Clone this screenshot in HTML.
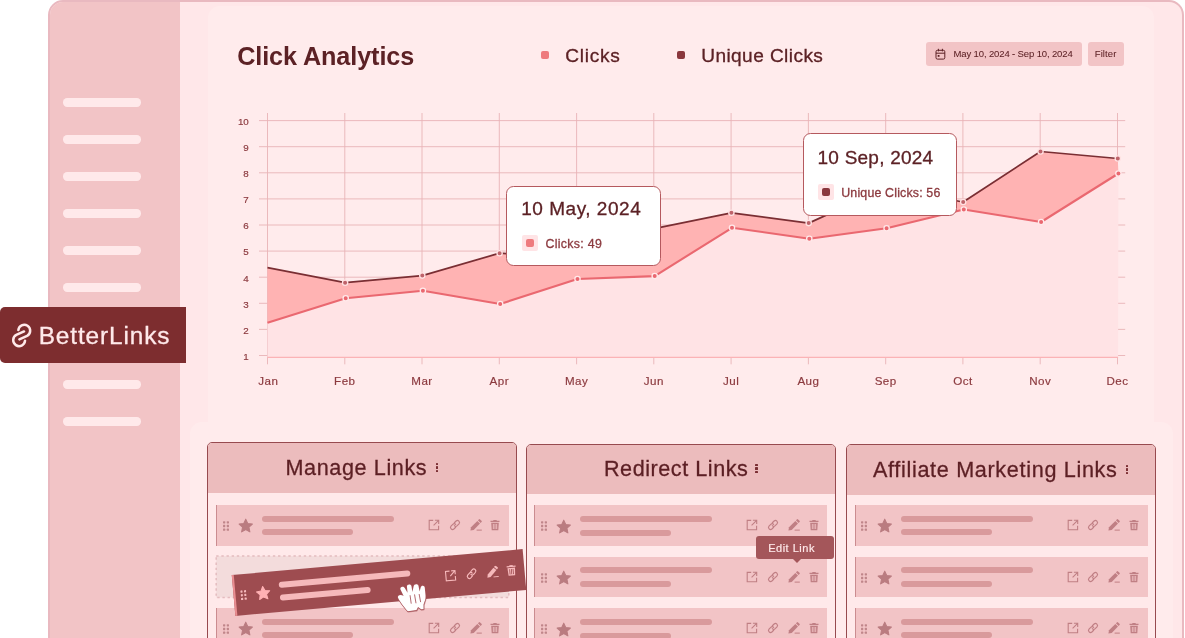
<!DOCTYPE html><html lang="en"><head><meta charset="utf-8"><title>BetterLinks – Click Analytics</title><style>

html,body{margin:0;padding:0;background:#fff}
body{width:1185px;height:638px;overflow:hidden;position:relative;font-family:"Liberation Sans", sans-serif}
#stage{position:absolute;left:0;top:0;width:1185px;height:638px;overflow:hidden}
.t{position:absolute;white-space:nowrap;line-height:1;margin:0;-webkit-text-stroke:0.3px currentColor}
#title{-webkit-text-stroke:0}
#date,#filter{-webkit-text-stroke:0.05px currentColor}
.sm{-webkit-text-stroke:0.18px currentColor}
.abs{position:absolute}
#frame{position:absolute;left:48px;top:-0.2px;width:1132.3px;height:700px;border:2px solid #e9b9c0;border-radius:15px;background:#ffe7e9;overflow:hidden;box-sizing:content-box}
#side{position:absolute;left:0;top:0;width:130.2px;height:700px;background:#f2c4c6}
.sl{position:absolute;left:63px;width:78px;height:8.4px;border-radius:4.2px;background:#ffe9ea}
.card{position:absolute;background:#ffebec;border-radius:12px}
#logo{position:absolute;left:0;top:306.8px;width:186.2px;height:56.5px;background:#7d2d2f;border-radius:5px 0 0 5px}
.btn{position:absolute;top:42.2px;height:23.5px;border-radius:3px;background:#f2c4c6}
.tip{position:absolute;background:#fff;border:1px solid #b5595e;border-radius:7.5px;box-sizing:border-box}
.panel{position:absolute;width:310px;box-sizing:border-box;border:1px solid #974a4f;border-radius:5px;background:#ffe9ea;overflow:hidden}
.phdr{background:#ecbcbd}
.row{position:absolute;width:293px;height:40.7px;background:#f2c4c6;border-left:1.6px solid #cb8c90;box-sizing:border-box}
.ln{position:absolute;height:6px;border-radius:3px}
.ic{display:block}

</style></head><body><div id="stage">
<div id="frame"><div id="side"></div></div>
<div class="card" style="left:208px;top:6px;width:945.5px;height:640px"></div>
<div class="card" style="left:190px;top:421.5px;width:982.5px;height:240px"></div>
<div class="sl" style="top:98.3px"></div>
<div class="sl" style="top:135.3px"></div>
<div class="sl" style="top:172.3px"></div>
<div class="sl" style="top:209.3px"></div>
<div class="sl" style="top:246.3px"></div>
<div class="sl" style="top:283.3px"></div>
<div class="sl" style="top:380.3px"></div>
<div class="sl" style="top:417.3px"></div>
<div id="logo"></div>
<svg style="position:absolute;left:8px;top:318px" width="28" height="34" viewBox="8 318 28 34"><g fill="none" stroke="#ffe9ea" stroke-width="2.7" stroke-linecap="round" transform="translate(21.7 335.4) scale(0.92) translate(-21.45 -335)"><path d="M17.8 329.2A6.45 6.45 0 1 1 27.3 335.5L18.9 339.3"/><path d="M25.1 340.8A6.45 6.45 0 1 1 15.6 334.5L24 330.7"/></g></svg>
<div class="t" id="logot" style="left:38.64px;top:324.25px;font-size:24.4px;font-weight:400;color:#ffe9ea;letter-spacing:0.884px">BetterLinks</div>
<div class="t" id="title" style="left:237.14px;top:44.27px;font-size:25.2px;font-weight:700;color:#5c2125;letter-spacing:-0.078px">Click Analytics</div>
<div class="abs" style="left:541.1px;top:51.2px;width:8.1px;height:8.1px;border-radius:2px;background:#ee7b7e"></div>
<div class="t" id="lg1" style="left:565.32px;top:45.73px;font-size:19.1px;font-weight:400;color:#5c2125;letter-spacing:0.715px">Clicks</div>
<div class="abs" style="left:677px;top:51.2px;width:8.1px;height:8.1px;border-radius:2px;background:#8a373d"></div>
<div class="t" id="lg2" style="left:701.18px;top:45.73px;font-size:19.1px;font-weight:400;color:#5c2125;letter-spacing:0.418px">Unique Clicks</div>
<div class="btn" style="left:926px;width:156.3px"></div>
<div class="btn" style="left:1087.8px;width:36.6px"></div>
<svg style="position:absolute;left:935px;top:48.4px" width="11" height="12" viewBox="0 0 11 12"><g fill="none" stroke="#5c2125" stroke-width="1"><rect x="1" y="2.3" width="8.8" height="8.8" rx="1.4"/><path d="M1 5.2H9.8M3.4 0.8V3.4M7.4 0.8V3.4"/></g><rect x="2.7" y="7" width="1.8" height="1.8" fill="#5c2125"/></svg>
<div class="t" id="date" style="left:953.54px;top:49.26px;font-size:9.5px;font-weight:400;color:#5c2125;letter-spacing:-0.129px">May 10, 2024 - Sep 10, 2024</div>
<div class="t" id="filter" style="left:1094.73px;top:49.26px;font-size:9.5px;font-weight:400;color:#5c2125;letter-spacing:0.108px">Filter</div>
<svg style="position:absolute;left:0;top:0" width="1185" height="638" viewBox="0 0 1185 638"><path d="M259 355.5H1125.2M259 329.4H1125.2M259 303.3H1125.2M259 277.2H1125.2M259 251.1H1125.2M259 225.0H1125.2M259 198.9H1125.2M259 172.8H1125.2M259 146.7H1125.2M259 120.6H1125.2M267.5 113V364.3M344.8 113V364.3M422.0 113V364.3M499.3 113V364.3M576.6 113V364.3M653.8 113V364.3M731.1 113V364.3M808.4 113V364.3M885.7 113V364.3M962.9 113V364.3M1040.2 113V364.3M1117.5 113V364.3" stroke="#e9b3b7" stroke-width="0.9" fill="none"/><polygon points="267.5,322.8 345.7,298.2 422.9,290.8 500.2,304 577.5,279 654.7,276.1 732.0,227.8 809.3,238.7 886.6,228.2 963.8,209.5 1041.1,222.0 1118.4,173.5 1118.1,357.3 267.5,357.3" fill="#ffe3e5"/><path d="M267.5 357.4H1118.1" stroke="#fbb3b6" stroke-width="1.3"/><polygon points="267.5,267.7 345.1,282.7 422.3,275.6 499.6,253.2 576.9,259 654.1,228.6 731.4,212.8 808.7,223.1 886.0,188 963.2,202 1040.5,151.5 1117.8,158.5 1118.4,173.5 1041.1,222.0 963.8,209.5 886.6,228.2 809.3,238.7 732.0,227.8 654.7,276.1 577.5,279 500.2,304 422.9,290.8 345.7,298.2 267.5,322.8" fill="#ffb3b3"/><polyline points="267.5,322.8 345.7,298.2 422.9,290.8 500.2,304 577.5,279 654.7,276.1 732.0,227.8 809.3,238.7 886.6,228.2 963.8,209.5 1041.1,222.0 1118.4,173.5" fill="none" stroke="#ea6870" stroke-width="2.1" stroke-linejoin="round"/><polyline points="267.5,267.7 345.1,282.7 422.3,275.6 499.6,253.2 576.9,259 654.1,228.6 731.4,212.8 808.7,223.1 886.0,188 963.2,202 1040.5,151.5 1117.8,158.5" fill="none" stroke="#7a2e33" stroke-width="1.75" stroke-linejoin="round"/><circle cx="345.7" cy="298.2" r="2.65" fill="#ea6870" stroke="#ffeaeb" stroke-width="1.3"/><circle cx="345.1" cy="282.7" r="2.65" fill="#bf636a" stroke="#ffe3e4" stroke-width="1.3"/><circle cx="422.9" cy="290.8" r="2.65" fill="#ea6870" stroke="#ffeaeb" stroke-width="1.3"/><circle cx="422.3" cy="275.6" r="2.65" fill="#bf636a" stroke="#ffe3e4" stroke-width="1.3"/><circle cx="500.2" cy="304" r="2.65" fill="#ea6870" stroke="#ffeaeb" stroke-width="1.3"/><circle cx="499.6" cy="253.2" r="2.65" fill="#bf636a" stroke="#ffe3e4" stroke-width="1.3"/><circle cx="577.5" cy="279" r="2.65" fill="#ea6870" stroke="#ffeaeb" stroke-width="1.3"/><circle cx="576.9" cy="259" r="2.65" fill="#bf636a" stroke="#ffe3e4" stroke-width="1.3"/><circle cx="654.7" cy="276.1" r="2.65" fill="#ea6870" stroke="#ffeaeb" stroke-width="1.3"/><circle cx="654.1" cy="228.6" r="2.65" fill="#bf636a" stroke="#ffe3e4" stroke-width="1.3"/><circle cx="732.0" cy="227.8" r="2.65" fill="#ea6870" stroke="#ffeaeb" stroke-width="1.3"/><circle cx="731.4" cy="212.8" r="2.65" fill="#bf636a" stroke="#ffe3e4" stroke-width="1.3"/><circle cx="809.3" cy="238.7" r="2.65" fill="#ea6870" stroke="#ffeaeb" stroke-width="1.3"/><circle cx="808.7" cy="223.1" r="2.65" fill="#bf636a" stroke="#ffe3e4" stroke-width="1.3"/><circle cx="886.6" cy="228.2" r="2.65" fill="#ea6870" stroke="#ffeaeb" stroke-width="1.3"/><circle cx="886.0" cy="188" r="2.65" fill="#bf636a" stroke="#ffe3e4" stroke-width="1.3"/><circle cx="963.8" cy="209.5" r="2.65" fill="#ea6870" stroke="#ffeaeb" stroke-width="1.3"/><circle cx="963.2" cy="202" r="2.65" fill="#bf636a" stroke="#ffe3e4" stroke-width="1.3"/><circle cx="1041.1" cy="222.0" r="2.65" fill="#ea6870" stroke="#ffeaeb" stroke-width="1.3"/><circle cx="1040.5" cy="151.5" r="2.65" fill="#bf636a" stroke="#ffe3e4" stroke-width="1.3"/><circle cx="1118.4" cy="173.5" r="2.65" fill="#ea6870" stroke="#ffeaeb" stroke-width="1.3"/><circle cx="1117.8" cy="158.5" r="2.65" fill="#bf636a" stroke="#ffe3e4" stroke-width="1.3"/></svg><div class="t sm" id="y1" style="right:936.2px;top:351.50px;font-size:9.8px;font-weight:400;color:#8c3a3f;letter-spacing:0px">1</div><div class="t sm" id="y2" style="right:936.2px;top:326.40px;font-size:9.8px;font-weight:400;color:#8c3a3f;letter-spacing:0px">2</div><div class="t sm" id="y3" style="right:936.2px;top:300.30px;font-size:9.8px;font-weight:400;color:#8c3a3f;letter-spacing:0px">3</div><div class="t sm" id="y4" style="right:936.2px;top:274.20px;font-size:9.8px;font-weight:400;color:#8c3a3f;letter-spacing:0px">4</div><div class="t sm" id="y5" style="right:936.2px;top:247.10px;font-size:9.8px;font-weight:400;color:#8c3a3f;letter-spacing:0px">5</div><div class="t sm" id="y6" style="right:936.2px;top:221.00px;font-size:9.8px;font-weight:400;color:#8c3a3f;letter-spacing:0px">6</div><div class="t sm" id="y7" style="right:936.2px;top:194.90px;font-size:9.8px;font-weight:400;color:#8c3a3f;letter-spacing:0px">7</div><div class="t sm" id="y8" style="right:936.2px;top:168.80px;font-size:9.8px;font-weight:400;color:#8c3a3f;letter-spacing:0px">8</div><div class="t sm" id="y9" style="right:936.2px;top:142.70px;font-size:9.8px;font-weight:400;color:#8c3a3f;letter-spacing:0px">9</div><div class="t sm" id="y10" style="right:936.2px;top:116.60px;font-size:9.8px;font-weight:400;color:#8c3a3f;letter-spacing:0px">10</div><div class="t sm" id="m0" style="left:168.3px;width:200px;text-align:center;top:374.98px;font-size:11.6px;font-weight:400;color:#8c3a3f;letter-spacing:0.45px">Jan</div><div class="t sm" id="m1" style="left:244.76999999999998px;width:200px;text-align:center;top:374.98px;font-size:11.6px;font-weight:400;color:#8c3a3f;letter-spacing:0.45px">Feb</div><div class="t sm" id="m2" style="left:322.03999999999996px;width:200px;text-align:center;top:374.98px;font-size:11.6px;font-weight:400;color:#8c3a3f;letter-spacing:0.45px">Mar</div><div class="t sm" id="m3" style="left:399.31px;width:200px;text-align:center;top:374.98px;font-size:11.6px;font-weight:400;color:#8c3a3f;letter-spacing:0.45px">Apr</div><div class="t sm" id="m4" style="left:476.5799999999999px;width:200px;text-align:center;top:374.98px;font-size:11.6px;font-weight:400;color:#8c3a3f;letter-spacing:0.45px">May</div><div class="t sm" id="m5" style="left:553.8499999999999px;width:200px;text-align:center;top:374.98px;font-size:11.6px;font-weight:400;color:#8c3a3f;letter-spacing:0.45px">Jun</div><div class="t sm" id="m6" style="left:631.12px;width:200px;text-align:center;top:374.98px;font-size:11.6px;font-weight:400;color:#8c3a3f;letter-spacing:0.45px">Jul</div><div class="t sm" id="m7" style="left:708.39px;width:200px;text-align:center;top:374.98px;font-size:11.6px;font-weight:400;color:#8c3a3f;letter-spacing:0.45px">Aug</div><div class="t sm" id="m8" style="left:785.66px;width:200px;text-align:center;top:374.98px;font-size:11.6px;font-weight:400;color:#8c3a3f;letter-spacing:0.45px">Sep</div><div class="t sm" id="m9" style="left:862.93px;width:200px;text-align:center;top:374.98px;font-size:11.6px;font-weight:400;color:#8c3a3f;letter-spacing:0.45px">Oct</div><div class="t sm" id="m10" style="left:940.1999999999998px;width:200px;text-align:center;top:374.98px;font-size:11.6px;font-weight:400;color:#8c3a3f;letter-spacing:0.45px">Nov</div><div class="t sm" id="m11" style="left:1017.4699999999998px;width:200px;text-align:center;top:374.98px;font-size:11.6px;font-weight:400;color:#8c3a3f;letter-spacing:0.45px">Dec</div>
<div class="tip" style="left:506.3px;top:186px;width:155px;height:79.8px"></div><div class="t" id="tp1t" style="left:521.19px;top:199.32px;font-size:19px;font-weight:400;color:#5c2125;letter-spacing:0.528px">10 May, 2024</div><div style="position:absolute;left:521.8px;top:235px;width:16px;height:16px;border-radius:2px;background:#ffe4e6"></div><div style="position:absolute;left:525.6999999999999px;top:238.9px;width:8.2px;height:8.2px;border-radius:2px;background:#ee7b7e"></div><div class="t" id="tp1l" style="left:545.40px;top:238.40px;font-size:12.4px;font-weight:400;color:#8c3a3f;letter-spacing:0.312px">Clicks: 49</div>
<div class="tip" style="left:803.3px;top:132.6px;width:153.4px;height:83px"></div><div class="t" id="tp2t" style="left:817.56px;top:148.32px;font-size:19px;font-weight:400;color:#5c2125;letter-spacing:0.234px">10 Sep, 2024</div><div style="position:absolute;left:817.9px;top:184.0px;width:16px;height:16px;border-radius:2px;background:#ffe4e6"></div><div style="position:absolute;left:821.8px;top:187.9px;width:8.2px;height:8.2px;border-radius:2px;background:#8a373d"></div><div class="t" id="tp2l" style="left:841.26px;top:187.40px;font-size:12.4px;font-weight:400;color:#8c3a3f;letter-spacing:0.164px">Unique Clicks: 56</div>
<div class="panel" style="left:207px;top:442px;height:218px"><div class="phdr" style="height:49.7px"></div></div><div class="t" id="p1" style="left:285.43px;top:457.42px;font-size:21.6px;font-weight:400;color:#5c1f24;letter-spacing:0.617px">Manage Links</div><div style="position:absolute;left:435.8px;top:462.7px;width:2.4px;height:2.4px;border-radius:0.6px;background:#7a2e33"></div><div style="position:absolute;left:435.8px;top:466.3px;width:2.4px;height:2.4px;border-radius:0.6px;background:#7a2e33"></div><div style="position:absolute;left:435.8px;top:469.9px;width:2.4px;height:2.4px;border-radius:0.6px;background:#7a2e33"></div><div class="row" style="left:216.1px;top:505.0px;width:292.8px"></div><svg style="position:absolute;left:222.9px;top:521.2px" width="6" height="10" viewBox="0 0 5.8 9.4"><rect x="0.0" y="0.0" width="2.2" height="2.2" rx="0.6" fill="#c0868a"/><rect x="0.0" y="3.6" width="2.2" height="2.2" rx="0.6" fill="#c0868a"/><rect x="0.0" y="7.2" width="2.2" height="2.2" rx="0.6" fill="#c0868a"/><rect x="3.6" y="0.0" width="2.2" height="2.2" rx="0.6" fill="#c0868a"/><rect x="3.6" y="3.6" width="2.2" height="2.2" rx="0.6" fill="#c0868a"/><rect x="3.6" y="7.2" width="2.2" height="2.2" rx="0.6" fill="#c0868a"/></svg><svg style="position:absolute;left:238.2px;top:518.4px" viewBox="0 0 24 24" width="15.5" height="15.5"><path fill="#ba7c80" stroke="#ba7c80" stroke-width="1.6" stroke-linejoin="round" d="M12 1.8l3.1 6.6 7.2 0.9-5.3 5 1.4 7.2L12 18l-6.4 3.5 1.4-7.2-5.3-5 7.2-0.9z"/></svg><div class="ln" style="left:262.2px;top:515.7px;width:132px;background:#d99a9c"></div><div class="ln" style="left:262.2px;top:529.3px;width:91px;background:#d99a9c"></div><div style="position:absolute;left:428.0px;top:519.2px;width:12px;height:12px"><svg class="ic" viewBox="0 0 12 12" width="12" height="12"><g fill="none" stroke="#c07f84" stroke-width="1.1"><path d="M5.2 1.4H1.2V10.8H10.6V6.8"/><path d="M5.6 6.4L10.4 1.6M6.9 1.3H10.7V5.1"/></g></svg></div><div style="position:absolute;left:448.7px;top:519.2px;width:12px;height:12px"><svg class="ic" viewBox="0 0 12 12" width="12" height="12"><g fill="none" stroke="#c07f84" stroke-width="1.25" stroke-linecap="round"><g transform="translate(6 6) scale(0.93) translate(-6 -6)"><path d="M5.3 3.6L7.2 1.7a2.2 2.2 0 0 1 3.1 3.1L8.4 6.7a2.2 2.2 0 0 1-3.1 0"/><path d="M6.7 8.4L4.8 10.3a2.2 2.2 0 0 1-3.1-3.1L3.6 5.3a2.2 2.2 0 0 1 3.1 0"/></g></g></svg></div><div style="position:absolute;left:469.9px;top:519.2px;width:12px;height:12px"><svg class="ic" viewBox="0 0 12 12" width="12" height="12"><g fill="#c07f84"><path d="M0.4 11.4L1 8.2L7.3 1.9L10 4.6L3.7 10.9Z"/><path d="M7.9 1.3L8.8 0.4a0.9 0.9 0 0 1 1.3 0L11.5 1.8a0.9 0.9 0 0 1 0 1.3L10.6 4Z"/><rect x="6.6" y="10.6" width="5.2" height="1"/></g></svg></div><div style="position:absolute;left:489.4px;top:519.2px;width:12px;height:12px"><svg class="ic" viewBox="0 0 12 12" width="12" height="12"><g fill="#c07f84"><path d="M1.5 1.7H4.3V0.9H7.7V1.7H10.5V2.9H1.5Z"/><path fill-rule="evenodd" d="M2.2 3.7H9.8L9.3 11.3H2.7Z M3.9 4.9V10.1H4.7V4.9Z M5.6 4.9V10.1H6.4V4.9Z M7.3 4.9V10.1H8.1V4.9Z"/></g></svg></div><div class="row" style="left:216.1px;top:608.0px;width:292.8px"></div><svg style="position:absolute;left:222.9px;top:624.2px" width="6" height="10" viewBox="0 0 5.8 9.4"><rect x="0.0" y="0.0" width="2.2" height="2.2" rx="0.6" fill="#c0868a"/><rect x="0.0" y="3.6" width="2.2" height="2.2" rx="0.6" fill="#c0868a"/><rect x="0.0" y="7.2" width="2.2" height="2.2" rx="0.6" fill="#c0868a"/><rect x="3.6" y="0.0" width="2.2" height="2.2" rx="0.6" fill="#c0868a"/><rect x="3.6" y="3.6" width="2.2" height="2.2" rx="0.6" fill="#c0868a"/><rect x="3.6" y="7.2" width="2.2" height="2.2" rx="0.6" fill="#c0868a"/></svg><svg style="position:absolute;left:238.2px;top:621.4px" viewBox="0 0 24 24" width="15.5" height="15.5"><path fill="#ba7c80" stroke="#ba7c80" stroke-width="1.6" stroke-linejoin="round" d="M12 1.8l3.1 6.6 7.2 0.9-5.3 5 1.4 7.2L12 18l-6.4 3.5 1.4-7.2-5.3-5 7.2-0.9z"/></svg><div class="ln" style="left:262.2px;top:618.7px;width:132px;background:#d99a9c"></div><div class="ln" style="left:262.2px;top:632.3px;width:91px;background:#d99a9c"></div><div style="position:absolute;left:428.0px;top:622.2px;width:12px;height:12px"><svg class="ic" viewBox="0 0 12 12" width="12" height="12"><g fill="none" stroke="#c07f84" stroke-width="1.1"><path d="M5.2 1.4H1.2V10.8H10.6V6.8"/><path d="M5.6 6.4L10.4 1.6M6.9 1.3H10.7V5.1"/></g></svg></div><div style="position:absolute;left:448.7px;top:622.2px;width:12px;height:12px"><svg class="ic" viewBox="0 0 12 12" width="12" height="12"><g fill="none" stroke="#c07f84" stroke-width="1.25" stroke-linecap="round"><g transform="translate(6 6) scale(0.93) translate(-6 -6)"><path d="M5.3 3.6L7.2 1.7a2.2 2.2 0 0 1 3.1 3.1L8.4 6.7a2.2 2.2 0 0 1-3.1 0"/><path d="M6.7 8.4L4.8 10.3a2.2 2.2 0 0 1-3.1-3.1L3.6 5.3a2.2 2.2 0 0 1 3.1 0"/></g></g></svg></div><div style="position:absolute;left:469.9px;top:622.2px;width:12px;height:12px"><svg class="ic" viewBox="0 0 12 12" width="12" height="12"><g fill="#c07f84"><path d="M0.4 11.4L1 8.2L7.3 1.9L10 4.6L3.7 10.9Z"/><path d="M7.9 1.3L8.8 0.4a0.9 0.9 0 0 1 1.3 0L11.5 1.8a0.9 0.9 0 0 1 0 1.3L10.6 4Z"/><rect x="6.6" y="10.6" width="5.2" height="1"/></g></svg></div><div style="position:absolute;left:489.4px;top:622.2px;width:12px;height:12px"><svg class="ic" viewBox="0 0 12 12" width="12" height="12"><g fill="#c07f84"><path d="M1.5 1.7H4.3V0.9H7.7V1.7H10.5V2.9H1.5Z"/><path fill-rule="evenodd" d="M2.2 3.7H9.8L9.3 11.3H2.7Z M3.9 4.9V10.1H4.7V4.9Z M5.6 4.9V10.1H6.4V4.9Z M7.3 4.9V10.1H8.1V4.9Z"/></g></svg></div>
<div class="panel" style="left:526.4px;top:444px;height:216px"><div class="phdr" style="height:48.8px"></div></div><div class="t" id="p2" style="left:603.95px;top:457.52px;font-size:21.6px;font-weight:400;color:#5c1f24;letter-spacing:0.545px">Redirect Links</div><div style="position:absolute;left:755.4px;top:463.8px;width:2.4px;height:2.4px;border-radius:0.6px;background:#7a2e33"></div><div style="position:absolute;left:755.4px;top:467.4px;width:2.4px;height:2.4px;border-radius:0.6px;background:#7a2e33"></div><div style="position:absolute;left:755.4px;top:471.0px;width:2.4px;height:2.4px;border-radius:0.6px;background:#7a2e33"></div><div class="row" style="left:534.3px;top:505.2px;width:292.8px"></div><svg style="position:absolute;left:541.0999999999999px;top:521.4px" width="6" height="10" viewBox="0 0 5.8 9.4"><rect x="0.0" y="0.0" width="2.2" height="2.2" rx="0.6" fill="#c0868a"/><rect x="0.0" y="3.6" width="2.2" height="2.2" rx="0.6" fill="#c0868a"/><rect x="0.0" y="7.2" width="2.2" height="2.2" rx="0.6" fill="#c0868a"/><rect x="3.6" y="0.0" width="2.2" height="2.2" rx="0.6" fill="#c0868a"/><rect x="3.6" y="3.6" width="2.2" height="2.2" rx="0.6" fill="#c0868a"/><rect x="3.6" y="7.2" width="2.2" height="2.2" rx="0.6" fill="#c0868a"/></svg><svg style="position:absolute;left:556.4px;top:518.6px" viewBox="0 0 24 24" width="15.5" height="15.5"><path fill="#ba7c80" stroke="#ba7c80" stroke-width="1.6" stroke-linejoin="round" d="M12 1.8l3.1 6.6 7.2 0.9-5.3 5 1.4 7.2L12 18l-6.4 3.5 1.4-7.2-5.3-5 7.2-0.9z"/></svg><div class="ln" style="left:580.4px;top:515.9px;width:132px;background:#d99a9c"></div><div class="ln" style="left:580.4px;top:529.5px;width:91px;background:#d99a9c"></div><div style="position:absolute;left:746.1999999999999px;top:519.4px;width:12px;height:12px"><svg class="ic" viewBox="0 0 12 12" width="12" height="12"><g fill="none" stroke="#c07f84" stroke-width="1.1"><path d="M5.2 1.4H1.2V10.8H10.6V6.8"/><path d="M5.6 6.4L10.4 1.6M6.9 1.3H10.7V5.1"/></g></svg></div><div style="position:absolute;left:766.8999999999999px;top:519.4px;width:12px;height:12px"><svg class="ic" viewBox="0 0 12 12" width="12" height="12"><g fill="none" stroke="#c07f84" stroke-width="1.25" stroke-linecap="round"><g transform="translate(6 6) scale(0.93) translate(-6 -6)"><path d="M5.3 3.6L7.2 1.7a2.2 2.2 0 0 1 3.1 3.1L8.4 6.7a2.2 2.2 0 0 1-3.1 0"/><path d="M6.7 8.4L4.8 10.3a2.2 2.2 0 0 1-3.1-3.1L3.6 5.3a2.2 2.2 0 0 1 3.1 0"/></g></g></svg></div><div style="position:absolute;left:788.0999999999999px;top:519.4px;width:12px;height:12px"><svg class="ic" viewBox="0 0 12 12" width="12" height="12"><g fill="#c07f84"><path d="M0.4 11.4L1 8.2L7.3 1.9L10 4.6L3.7 10.9Z"/><path d="M7.9 1.3L8.8 0.4a0.9 0.9 0 0 1 1.3 0L11.5 1.8a0.9 0.9 0 0 1 0 1.3L10.6 4Z"/><rect x="6.6" y="10.6" width="5.2" height="1"/></g></svg></div><div style="position:absolute;left:807.5999999999999px;top:519.4px;width:12px;height:12px"><svg class="ic" viewBox="0 0 12 12" width="12" height="12"><g fill="#c07f84"><path d="M1.5 1.7H4.3V0.9H7.7V1.7H10.5V2.9H1.5Z"/><path fill-rule="evenodd" d="M2.2 3.7H9.8L9.3 11.3H2.7Z M3.9 4.9V10.1H4.7V4.9Z M5.6 4.9V10.1H6.4V4.9Z M7.3 4.9V10.1H8.1V4.9Z"/></g></svg></div><div class="row" style="left:534.3px;top:556.7px;width:292.8px"></div><svg style="position:absolute;left:541.0999999999999px;top:572.9000000000001px" width="6" height="10" viewBox="0 0 5.8 9.4"><rect x="0.0" y="0.0" width="2.2" height="2.2" rx="0.6" fill="#c0868a"/><rect x="0.0" y="3.6" width="2.2" height="2.2" rx="0.6" fill="#c0868a"/><rect x="0.0" y="7.2" width="2.2" height="2.2" rx="0.6" fill="#c0868a"/><rect x="3.6" y="0.0" width="2.2" height="2.2" rx="0.6" fill="#c0868a"/><rect x="3.6" y="3.6" width="2.2" height="2.2" rx="0.6" fill="#c0868a"/><rect x="3.6" y="7.2" width="2.2" height="2.2" rx="0.6" fill="#c0868a"/></svg><svg style="position:absolute;left:556.4px;top:570.1px" viewBox="0 0 24 24" width="15.5" height="15.5"><path fill="#ba7c80" stroke="#ba7c80" stroke-width="1.6" stroke-linejoin="round" d="M12 1.8l3.1 6.6 7.2 0.9-5.3 5 1.4 7.2L12 18l-6.4 3.5 1.4-7.2-5.3-5 7.2-0.9z"/></svg><div class="ln" style="left:580.4px;top:567.4000000000001px;width:132px;background:#d99a9c"></div><div class="ln" style="left:580.4px;top:581.0px;width:91px;background:#d99a9c"></div><div style="position:absolute;left:746.1999999999999px;top:570.9000000000001px;width:12px;height:12px"><svg class="ic" viewBox="0 0 12 12" width="12" height="12"><g fill="none" stroke="#c07f84" stroke-width="1.1"><path d="M5.2 1.4H1.2V10.8H10.6V6.8"/><path d="M5.6 6.4L10.4 1.6M6.9 1.3H10.7V5.1"/></g></svg></div><div style="position:absolute;left:766.8999999999999px;top:570.9000000000001px;width:12px;height:12px"><svg class="ic" viewBox="0 0 12 12" width="12" height="12"><g fill="none" stroke="#c07f84" stroke-width="1.25" stroke-linecap="round"><g transform="translate(6 6) scale(0.93) translate(-6 -6)"><path d="M5.3 3.6L7.2 1.7a2.2 2.2 0 0 1 3.1 3.1L8.4 6.7a2.2 2.2 0 0 1-3.1 0"/><path d="M6.7 8.4L4.8 10.3a2.2 2.2 0 0 1-3.1-3.1L3.6 5.3a2.2 2.2 0 0 1 3.1 0"/></g></g></svg></div><div style="position:absolute;left:788.0999999999999px;top:570.9000000000001px;width:12px;height:12px"><svg class="ic" viewBox="0 0 12 12" width="12" height="12"><g fill="#c07f84"><path d="M0.4 11.4L1 8.2L7.3 1.9L10 4.6L3.7 10.9Z"/><path d="M7.9 1.3L8.8 0.4a0.9 0.9 0 0 1 1.3 0L11.5 1.8a0.9 0.9 0 0 1 0 1.3L10.6 4Z"/><rect x="6.6" y="10.6" width="5.2" height="1"/></g></svg></div><div style="position:absolute;left:807.5999999999999px;top:570.9000000000001px;width:12px;height:12px"><svg class="ic" viewBox="0 0 12 12" width="12" height="12"><g fill="#c07f84"><path d="M1.5 1.7H4.3V0.9H7.7V1.7H10.5V2.9H1.5Z"/><path fill-rule="evenodd" d="M2.2 3.7H9.8L9.3 11.3H2.7Z M3.9 4.9V10.1H4.7V4.9Z M5.6 4.9V10.1H6.4V4.9Z M7.3 4.9V10.1H8.1V4.9Z"/></g></svg></div><div class="row" style="left:534.3px;top:608.2px;width:292.8px"></div><svg style="position:absolute;left:541.0999999999999px;top:624.4000000000001px" width="6" height="10" viewBox="0 0 5.8 9.4"><rect x="0.0" y="0.0" width="2.2" height="2.2" rx="0.6" fill="#c0868a"/><rect x="0.0" y="3.6" width="2.2" height="2.2" rx="0.6" fill="#c0868a"/><rect x="0.0" y="7.2" width="2.2" height="2.2" rx="0.6" fill="#c0868a"/><rect x="3.6" y="0.0" width="2.2" height="2.2" rx="0.6" fill="#c0868a"/><rect x="3.6" y="3.6" width="2.2" height="2.2" rx="0.6" fill="#c0868a"/><rect x="3.6" y="7.2" width="2.2" height="2.2" rx="0.6" fill="#c0868a"/></svg><svg style="position:absolute;left:556.4px;top:621.6px" viewBox="0 0 24 24" width="15.5" height="15.5"><path fill="#ba7c80" stroke="#ba7c80" stroke-width="1.6" stroke-linejoin="round" d="M12 1.8l3.1 6.6 7.2 0.9-5.3 5 1.4 7.2L12 18l-6.4 3.5 1.4-7.2-5.3-5 7.2-0.9z"/></svg><div class="ln" style="left:580.4px;top:618.9000000000001px;width:132px;background:#d99a9c"></div><div class="ln" style="left:580.4px;top:632.5px;width:91px;background:#d99a9c"></div><div style="position:absolute;left:746.1999999999999px;top:622.4000000000001px;width:12px;height:12px"><svg class="ic" viewBox="0 0 12 12" width="12" height="12"><g fill="none" stroke="#c07f84" stroke-width="1.1"><path d="M5.2 1.4H1.2V10.8H10.6V6.8"/><path d="M5.6 6.4L10.4 1.6M6.9 1.3H10.7V5.1"/></g></svg></div><div style="position:absolute;left:766.8999999999999px;top:622.4000000000001px;width:12px;height:12px"><svg class="ic" viewBox="0 0 12 12" width="12" height="12"><g fill="none" stroke="#c07f84" stroke-width="1.25" stroke-linecap="round"><g transform="translate(6 6) scale(0.93) translate(-6 -6)"><path d="M5.3 3.6L7.2 1.7a2.2 2.2 0 0 1 3.1 3.1L8.4 6.7a2.2 2.2 0 0 1-3.1 0"/><path d="M6.7 8.4L4.8 10.3a2.2 2.2 0 0 1-3.1-3.1L3.6 5.3a2.2 2.2 0 0 1 3.1 0"/></g></g></svg></div><div style="position:absolute;left:788.0999999999999px;top:622.4000000000001px;width:12px;height:12px"><svg class="ic" viewBox="0 0 12 12" width="12" height="12"><g fill="#c07f84"><path d="M0.4 11.4L1 8.2L7.3 1.9L10 4.6L3.7 10.9Z"/><path d="M7.9 1.3L8.8 0.4a0.9 0.9 0 0 1 1.3 0L11.5 1.8a0.9 0.9 0 0 1 0 1.3L10.6 4Z"/><rect x="6.6" y="10.6" width="5.2" height="1"/></g></svg></div><div style="position:absolute;left:807.5999999999999px;top:622.4000000000001px;width:12px;height:12px"><svg class="ic" viewBox="0 0 12 12" width="12" height="12"><g fill="#c07f84"><path d="M1.5 1.7H4.3V0.9H7.7V1.7H10.5V2.9H1.5Z"/><path fill-rule="evenodd" d="M2.2 3.7H9.8L9.3 11.3H2.7Z M3.9 4.9V10.1H4.7V4.9Z M5.6 4.9V10.1H6.4V4.9Z M7.3 4.9V10.1H8.1V4.9Z"/></g></svg></div>
<div class="panel" style="left:846.0px;top:444px;height:216px"><div class="phdr" style="height:49.8px"></div></div><div class="t" id="p3" style="left:872.93px;top:458.52px;font-size:21.6px;font-weight:400;color:#5c1f24;letter-spacing:0.68px">Affiliate Marketing Links</div><div style="position:absolute;left:1125.7px;top:464.8px;width:2.4px;height:2.4px;border-radius:0.6px;background:#7a2e33"></div><div style="position:absolute;left:1125.7px;top:468.4px;width:2.4px;height:2.4px;border-radius:0.6px;background:#7a2e33"></div><div style="position:absolute;left:1125.7px;top:472.0px;width:2.4px;height:2.4px;border-radius:0.6px;background:#7a2e33"></div><div class="row" style="left:854.8px;top:505.0px;width:292.8px"></div><svg style="position:absolute;left:861.4px;top:521.2px" width="6" height="10" viewBox="0 0 5.8 9.4"><rect x="0.0" y="0.0" width="2.2" height="2.2" rx="0.6" fill="#c0868a"/><rect x="0.0" y="3.6" width="2.2" height="2.2" rx="0.6" fill="#c0868a"/><rect x="0.0" y="7.2" width="2.2" height="2.2" rx="0.6" fill="#c0868a"/><rect x="3.6" y="0.0" width="2.2" height="2.2" rx="0.6" fill="#c0868a"/><rect x="3.6" y="3.6" width="2.2" height="2.2" rx="0.6" fill="#c0868a"/><rect x="3.6" y="7.2" width="2.2" height="2.2" rx="0.6" fill="#c0868a"/></svg><svg style="position:absolute;left:876.7px;top:518.4px" viewBox="0 0 24 24" width="15.5" height="15.5"><path fill="#ba7c80" stroke="#ba7c80" stroke-width="1.6" stroke-linejoin="round" d="M12 1.8l3.1 6.6 7.2 0.9-5.3 5 1.4 7.2L12 18l-6.4 3.5 1.4-7.2-5.3-5 7.2-0.9z"/></svg><div class="ln" style="left:900.7px;top:515.7px;width:132px;background:#d99a9c"></div><div class="ln" style="left:900.7px;top:529.3px;width:91px;background:#d99a9c"></div><div style="position:absolute;left:1066.5px;top:519.2px;width:12px;height:12px"><svg class="ic" viewBox="0 0 12 12" width="12" height="12"><g fill="none" stroke="#c07f84" stroke-width="1.1"><path d="M5.2 1.4H1.2V10.8H10.6V6.8"/><path d="M5.6 6.4L10.4 1.6M6.9 1.3H10.7V5.1"/></g></svg></div><div style="position:absolute;left:1087.2px;top:519.2px;width:12px;height:12px"><svg class="ic" viewBox="0 0 12 12" width="12" height="12"><g fill="none" stroke="#c07f84" stroke-width="1.25" stroke-linecap="round"><g transform="translate(6 6) scale(0.93) translate(-6 -6)"><path d="M5.3 3.6L7.2 1.7a2.2 2.2 0 0 1 3.1 3.1L8.4 6.7a2.2 2.2 0 0 1-3.1 0"/><path d="M6.7 8.4L4.8 10.3a2.2 2.2 0 0 1-3.1-3.1L3.6 5.3a2.2 2.2 0 0 1 3.1 0"/></g></g></svg></div><div style="position:absolute;left:1108.4px;top:519.2px;width:12px;height:12px"><svg class="ic" viewBox="0 0 12 12" width="12" height="12"><g fill="#c07f84"><path d="M0.4 11.4L1 8.2L7.3 1.9L10 4.6L3.7 10.9Z"/><path d="M7.9 1.3L8.8 0.4a0.9 0.9 0 0 1 1.3 0L11.5 1.8a0.9 0.9 0 0 1 0 1.3L10.6 4Z"/><rect x="6.6" y="10.6" width="5.2" height="1"/></g></svg></div><div style="position:absolute;left:1127.9px;top:519.2px;width:12px;height:12px"><svg class="ic" viewBox="0 0 12 12" width="12" height="12"><g fill="#c07f84"><path d="M1.5 1.7H4.3V0.9H7.7V1.7H10.5V2.9H1.5Z"/><path fill-rule="evenodd" d="M2.2 3.7H9.8L9.3 11.3H2.7Z M3.9 4.9V10.1H4.7V4.9Z M5.6 4.9V10.1H6.4V4.9Z M7.3 4.9V10.1H8.1V4.9Z"/></g></svg></div><div class="row" style="left:854.8px;top:556.5px;width:292.8px"></div><svg style="position:absolute;left:861.4px;top:572.7px" width="6" height="10" viewBox="0 0 5.8 9.4"><rect x="0.0" y="0.0" width="2.2" height="2.2" rx="0.6" fill="#c0868a"/><rect x="0.0" y="3.6" width="2.2" height="2.2" rx="0.6" fill="#c0868a"/><rect x="0.0" y="7.2" width="2.2" height="2.2" rx="0.6" fill="#c0868a"/><rect x="3.6" y="0.0" width="2.2" height="2.2" rx="0.6" fill="#c0868a"/><rect x="3.6" y="3.6" width="2.2" height="2.2" rx="0.6" fill="#c0868a"/><rect x="3.6" y="7.2" width="2.2" height="2.2" rx="0.6" fill="#c0868a"/></svg><svg style="position:absolute;left:876.7px;top:569.9px" viewBox="0 0 24 24" width="15.5" height="15.5"><path fill="#ba7c80" stroke="#ba7c80" stroke-width="1.6" stroke-linejoin="round" d="M12 1.8l3.1 6.6 7.2 0.9-5.3 5 1.4 7.2L12 18l-6.4 3.5 1.4-7.2-5.3-5 7.2-0.9z"/></svg><div class="ln" style="left:900.7px;top:567.2px;width:132px;background:#d99a9c"></div><div class="ln" style="left:900.7px;top:580.8px;width:91px;background:#d99a9c"></div><div style="position:absolute;left:1066.5px;top:570.7px;width:12px;height:12px"><svg class="ic" viewBox="0 0 12 12" width="12" height="12"><g fill="none" stroke="#c07f84" stroke-width="1.1"><path d="M5.2 1.4H1.2V10.8H10.6V6.8"/><path d="M5.6 6.4L10.4 1.6M6.9 1.3H10.7V5.1"/></g></svg></div><div style="position:absolute;left:1087.2px;top:570.7px;width:12px;height:12px"><svg class="ic" viewBox="0 0 12 12" width="12" height="12"><g fill="none" stroke="#c07f84" stroke-width="1.25" stroke-linecap="round"><g transform="translate(6 6) scale(0.93) translate(-6 -6)"><path d="M5.3 3.6L7.2 1.7a2.2 2.2 0 0 1 3.1 3.1L8.4 6.7a2.2 2.2 0 0 1-3.1 0"/><path d="M6.7 8.4L4.8 10.3a2.2 2.2 0 0 1-3.1-3.1L3.6 5.3a2.2 2.2 0 0 1 3.1 0"/></g></g></svg></div><div style="position:absolute;left:1108.4px;top:570.7px;width:12px;height:12px"><svg class="ic" viewBox="0 0 12 12" width="12" height="12"><g fill="#c07f84"><path d="M0.4 11.4L1 8.2L7.3 1.9L10 4.6L3.7 10.9Z"/><path d="M7.9 1.3L8.8 0.4a0.9 0.9 0 0 1 1.3 0L11.5 1.8a0.9 0.9 0 0 1 0 1.3L10.6 4Z"/><rect x="6.6" y="10.6" width="5.2" height="1"/></g></svg></div><div style="position:absolute;left:1127.9px;top:570.7px;width:12px;height:12px"><svg class="ic" viewBox="0 0 12 12" width="12" height="12"><g fill="#c07f84"><path d="M1.5 1.7H4.3V0.9H7.7V1.7H10.5V2.9H1.5Z"/><path fill-rule="evenodd" d="M2.2 3.7H9.8L9.3 11.3H2.7Z M3.9 4.9V10.1H4.7V4.9Z M5.6 4.9V10.1H6.4V4.9Z M7.3 4.9V10.1H8.1V4.9Z"/></g></svg></div><div class="row" style="left:854.8px;top:608.0px;width:292.8px"></div><svg style="position:absolute;left:861.4px;top:624.2px" width="6" height="10" viewBox="0 0 5.8 9.4"><rect x="0.0" y="0.0" width="2.2" height="2.2" rx="0.6" fill="#c0868a"/><rect x="0.0" y="3.6" width="2.2" height="2.2" rx="0.6" fill="#c0868a"/><rect x="0.0" y="7.2" width="2.2" height="2.2" rx="0.6" fill="#c0868a"/><rect x="3.6" y="0.0" width="2.2" height="2.2" rx="0.6" fill="#c0868a"/><rect x="3.6" y="3.6" width="2.2" height="2.2" rx="0.6" fill="#c0868a"/><rect x="3.6" y="7.2" width="2.2" height="2.2" rx="0.6" fill="#c0868a"/></svg><svg style="position:absolute;left:876.7px;top:621.4px" viewBox="0 0 24 24" width="15.5" height="15.5"><path fill="#ba7c80" stroke="#ba7c80" stroke-width="1.6" stroke-linejoin="round" d="M12 1.8l3.1 6.6 7.2 0.9-5.3 5 1.4 7.2L12 18l-6.4 3.5 1.4-7.2-5.3-5 7.2-0.9z"/></svg><div class="ln" style="left:900.7px;top:618.7px;width:132px;background:#d99a9c"></div><div class="ln" style="left:900.7px;top:632.3px;width:91px;background:#d99a9c"></div><div style="position:absolute;left:1066.5px;top:622.2px;width:12px;height:12px"><svg class="ic" viewBox="0 0 12 12" width="12" height="12"><g fill="none" stroke="#c07f84" stroke-width="1.1"><path d="M5.2 1.4H1.2V10.8H10.6V6.8"/><path d="M5.6 6.4L10.4 1.6M6.9 1.3H10.7V5.1"/></g></svg></div><div style="position:absolute;left:1087.2px;top:622.2px;width:12px;height:12px"><svg class="ic" viewBox="0 0 12 12" width="12" height="12"><g fill="none" stroke="#c07f84" stroke-width="1.25" stroke-linecap="round"><g transform="translate(6 6) scale(0.93) translate(-6 -6)"><path d="M5.3 3.6L7.2 1.7a2.2 2.2 0 0 1 3.1 3.1L8.4 6.7a2.2 2.2 0 0 1-3.1 0"/><path d="M6.7 8.4L4.8 10.3a2.2 2.2 0 0 1-3.1-3.1L3.6 5.3a2.2 2.2 0 0 1 3.1 0"/></g></g></svg></div><div style="position:absolute;left:1108.4px;top:622.2px;width:12px;height:12px"><svg class="ic" viewBox="0 0 12 12" width="12" height="12"><g fill="#c07f84"><path d="M0.4 11.4L1 8.2L7.3 1.9L10 4.6L3.7 10.9Z"/><path d="M7.9 1.3L8.8 0.4a0.9 0.9 0 0 1 1.3 0L11.5 1.8a0.9 0.9 0 0 1 0 1.3L10.6 4Z"/><rect x="6.6" y="10.6" width="5.2" height="1"/></g></svg></div><div style="position:absolute;left:1127.9px;top:622.2px;width:12px;height:12px"><svg class="ic" viewBox="0 0 12 12" width="12" height="12"><g fill="#c07f84"><path d="M1.5 1.7H4.3V0.9H7.7V1.7H10.5V2.9H1.5Z"/><path fill-rule="evenodd" d="M2.2 3.7H9.8L9.3 11.3H2.7Z M3.9 4.9V10.1H4.7V4.9Z M5.6 4.9V10.1H6.4V4.9Z M7.3 4.9V10.1H8.1V4.9Z"/></g></svg></div>
<svg class="abs" style="left:214px;top:554px" width="298" height="46" viewBox="214 554 298 46"><rect x="216.2" y="556.1" width="292.6" height="41.4" fill="#f3dcdc" stroke="#e4bcbf" stroke-width="1.5" stroke-dasharray="2.4 2.75"/></svg>
<div class="abs" style="left:232.7px;top:562.3px;width:292px;height:41px;background:#9e4c50;border-left:2px solid #e98d91;box-sizing:border-box;transform:rotate(-5.1deg);transform-origin:50% 50%"><div style="position:absolute;left:-9px;top:0"><svg style="position:absolute;left:13.9px;top:16.2px" width="6" height="10" viewBox="0 0 5.8 9.4"><rect x="0.0" y="0.0" width="2.2" height="2.2" rx="0.6" fill="#f6b9bb"/><rect x="0.0" y="3.6" width="2.2" height="2.2" rx="0.6" fill="#f6b9bb"/><rect x="0.0" y="7.2" width="2.2" height="2.2" rx="0.6" fill="#f6b9bb"/><rect x="3.6" y="0.0" width="2.2" height="2.2" rx="0.6" fill="#f6b9bb"/><rect x="3.6" y="3.6" width="2.2" height="2.2" rx="0.6" fill="#f6b9bb"/><rect x="3.6" y="7.2" width="2.2" height="2.2" rx="0.6" fill="#f6b9bb"/></svg><svg style="position:absolute;left:29.2px;top:13.4px" viewBox="0 0 24 24" width="15.5" height="15.5"><path fill="#ffb1b4" stroke="#ffb1b4" stroke-width="1.6" stroke-linejoin="round" d="M12 1.8l3.1 6.6 7.2 0.9-5.3 5 1.4 7.2L12 18l-6.4 3.5 1.4-7.2-5.3-5 7.2-0.9z"/></svg><div class="ln" style="left:53.2px;top:10.7px;width:132px;background:#f6b9bb"></div><div class="ln" style="left:53.2px;top:24.3px;width:91px;background:#f6b9bb"></div><div style="position:absolute;left:219.0px;top:14.2px;width:12px;height:12px"><svg class="ic" viewBox="0 0 12 12" width="12" height="12"><g fill="none" stroke="#f6b9bb" stroke-width="1.1"><path d="M5.2 1.4H1.2V10.8H10.6V6.8"/><path d="M5.6 6.4L10.4 1.6M6.9 1.3H10.7V5.1"/></g></svg></div><div style="position:absolute;left:239.7px;top:14.2px;width:12px;height:12px"><svg class="ic" viewBox="0 0 12 12" width="12" height="12"><g fill="none" stroke="#f6b9bb" stroke-width="1.25" stroke-linecap="round"><g transform="translate(6 6) scale(0.93) translate(-6 -6)"><path d="M5.3 3.6L7.2 1.7a2.2 2.2 0 0 1 3.1 3.1L8.4 6.7a2.2 2.2 0 0 1-3.1 0"/><path d="M6.7 8.4L4.8 10.3a2.2 2.2 0 0 1-3.1-3.1L3.6 5.3a2.2 2.2 0 0 1 3.1 0"/></g></g></svg></div><div style="position:absolute;left:260.9px;top:14.2px;width:12px;height:12px"><svg class="ic" viewBox="0 0 12 12" width="12" height="12"><g fill="#f6b9bb"><path d="M0.4 11.4L1 8.2L7.3 1.9L10 4.6L3.7 10.9Z"/><path d="M7.9 1.3L8.8 0.4a0.9 0.9 0 0 1 1.3 0L11.5 1.8a0.9 0.9 0 0 1 0 1.3L10.6 4Z"/><rect x="6.6" y="10.6" width="5.2" height="1"/></g></svg></div><div style="position:absolute;left:280.4px;top:14.2px;width:12px;height:12px"><svg class="ic" viewBox="0 0 12 12" width="12" height="12"><g fill="#f6b9bb"><path d="M1.5 1.7H4.3V0.9H7.7V1.7H10.5V2.9H1.5Z"/><path fill-rule="evenodd" d="M2.2 3.7H9.8L9.3 11.3H2.7Z M3.9 4.9V10.1H4.7V4.9Z M5.6 4.9V10.1H6.4V4.9Z M7.3 4.9V10.1H8.1V4.9Z"/></g></svg></div></div></div>
<svg style="position:absolute;left:395px;top:581px" width="34" height="34" viewBox="395 581 34 34"><g transform="translate(385 570) scale(0.0783)"><path d="M165 350C160 320 200 305 238 332L198 250C185 215 235 200 250 228L288 292L280 212C278 178 335 175 338 208L350 282L366 208C370 172 425 172 428 205L442 275L456 225C462 190 508 195 508 228L518 330C522 375 502 410 492 440L492 497L462 502L422 472L402 512L292 527C262 492 192 412 165 350Z" transform="translate(5 8)" fill="#9e4c50" stroke="#9e4c50" stroke-width="18" stroke-linejoin="round" opacity="0.55"/><path d="M165 350C160 320 200 305 238 332L198 250C185 215 235 200 250 228L288 292L280 212C278 178 335 175 338 208L350 282L366 208C370 172 425 172 428 205L442 275L456 225C462 190 508 195 508 228L518 330C522 375 502 410 492 440L492 497L462 502L422 472L402 512L292 527C262 492 192 412 165 350Z" fill="#fff" stroke="#a85258" stroke-width="16" stroke-linejoin="round" paint-order="stroke"/><path d="M320 322L335 430M377 312L396 425M436 307L455 410" stroke="#a85258" stroke-width="11" fill="none"/></g></svg>
<div class="abs" style="left:755.8px;top:535.7px;width:78.4px;height:23.8px;border-radius:3px;background:#a4565a"></div>
<div class="abs" style="left:792.6px;top:559.3px;width:0;height:0;border-left:4.4px solid transparent;border-right:4.4px solid transparent;border-top:4px solid #a4565a"></div>
<div class="t sm" id="edit" style="left:768.19px;top:543.39px;font-size:11px;font-weight:400;color:#ffe9ea;letter-spacing:0.507px">Edit Link</div>
</div></body></html>
